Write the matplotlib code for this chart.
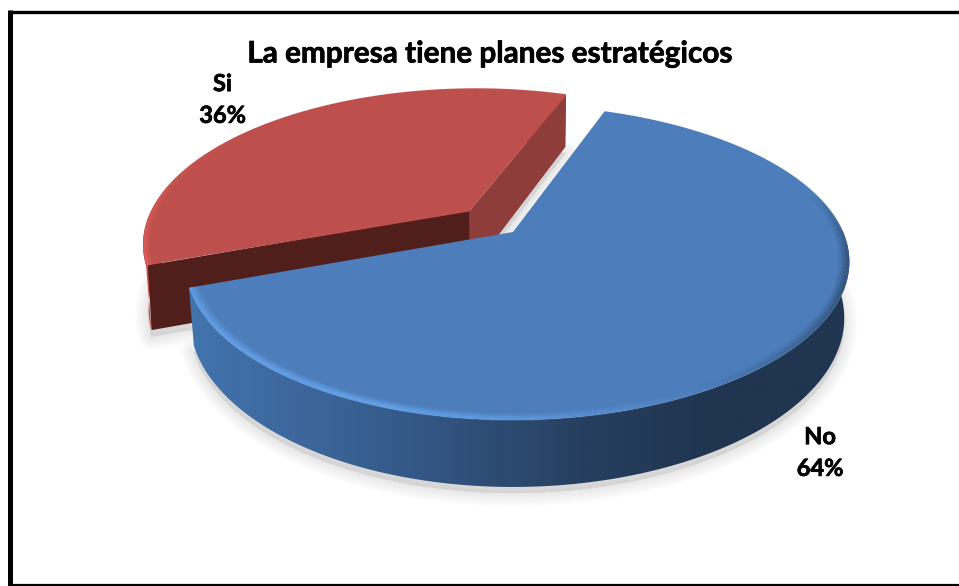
import numpy as np
import matplotlib
matplotlib.use("Agg")
import matplotlib.pyplot as plt
import matplotlib.patheffects as pe
from matplotlib.collections import LineCollection
from matplotlib.colors import LinearSegmentedColormap, to_rgb
from matplotlib.patches import Polygon

# Chart content
title = "La empresa tiene planes estratégicos"
categories = ["No", "Si"]
values = [64, 36]

# Pie geometry, in figure pixels
CX, CY = 513, 232       # hub of the centred slice
RX, RY = 322, 151.5     # disc radii after tilt
PERSP = 0.194           # perspective strength front to back
WIDEN = 0.025           # stretch of the near-camera right side
START = 19.5            # clockwise from twelve o'clock
DEPTH = {"No": 54, "Si": 63}
EXPLODE = {"No": 0.0, "Si": 0.197}
RADIUS = {"No": 1.0, "Si": 1.015}
TAPER = 0.985
TOP = {"No": "#4d7ebb", "Si": "#bd4f4c"}

plt.rcParams["font.family"] = ["Lato", "DejaVu Sans"]
fig = plt.figure(figsize=(9.59, 5.86), dpi=100)
ax = fig.add_axes([0, 0, 1, 1])
ax.set_xlim(0, 959)
ax.set_ylim(586, 0)
ax.axis("off")


def project(x, y, drop=0.0):
    """Map disc coordinates to the screen; drop moves down to the base."""
    x, y = np.asarray(x, float), np.asarray(y, float)
    w = 1 + PERSP * y
    sx = CX + RX * x * (1 + WIDEN * np.clip(x, 0, None)) / w
    sy = CY - RY * y / w
    if drop:
        sx = CX + TAPER * (sx - CX)
        sy = sy + drop / w
    return np.column_stack([np.atleast_1d(sx), np.atleast_1d(sy)])


def arc(a0, a1, off, r=1.0, n=240):
    t = np.radians(np.linspace(a0, a1, n))
    return r * np.sin(t) + off[0], r * np.cos(t) + off[1]


def wedge(a0, a1, off, r=1.0, drop=0.0):
    x, y = arc(a0, a1, off, r=r)
    return np.vstack([project(off[0], off[1], drop), project(x, y, drop)])


def blend(c0, c1, f):
    c0, c1 = np.array(to_rgb(c0)), np.array(to_rgb(c1))
    return tuple(c0 + (c1 - c0) * f)


# Slice angles follow the values
spans = {}
angle = START
total = sum(values)
for name, v in zip(categories, values):
    spans[name] = (angle, angle + 360 * v / total)
    angle += 360 * v / total

offsets = {}
for name in categories:
    a0, a1 = spans[name]
    mid = np.radians((a0 + a1) / 2)
    offsets[name] = (EXPLODE[name] * np.sin(mid), EXPLODE[name] * np.cos(mid))

# Soft shadow beneath both slices
for name in categories:
    a0, a1 = spans[name]
    base = wedge(a0, a1, offsets[name], RADIUS[name], DEPTH[name]) + np.array([0, 6])
    for lw in np.linspace(19, 1, 12):
        ax.add_patch(Polygon(base, closed=True, facecolor="#b0b0b0", edgecolor="#b0b0b0",
                             lw=lw, alpha=0.022, joinstyle="round", zorder=1))

# Red slice: outer wall, cut faces, top
a0, a1 = spans["Si"]
off = offsets["Si"]
d = DEPTH["Si"]
rad = RADIUS["Si"]
x, y = arc(a0, a1, off, r=rad)
ax.add_patch(Polygon(np.vstack([project(x, y), project(x, y, d)[::-1]]), closed=True,
                     facecolor="#c44f4c", edgecolor="none", zorder=2))
hub_t = project(off[0], off[1])
hub_b = project(off[0], off[1], d)
left_t, left_b = project(x[0:1], y[0:1]), project(x[0:1], y[0:1], d)
right_t, right_b = project(x[-1:], y[-1:]), project(x[-1:], y[-1:], d)
ax.add_patch(Polygon(np.vstack([hub_t, left_t + [3, 1], left_b + [1, -2], hub_b]), closed=True,
                     facecolor="#511f1b", edgecolor="#511f1b", lw=1.5, joinstyle="round", zorder=3))
ax.add_patch(Polygon(np.vstack([hub_t, right_t, right_b, hub_b]), closed=True,
                     facecolor="#8f3d3a", edgecolor="none", zorder=3))
ax.add_patch(Polygon(wedge(a0, a1, off, rad), closed=True, facecolor=TOP["Si"], edgecolor="none", zorder=4))

# Light bevel on the left of the red rim
for r, lw, strength in [(rad - 0.006, 2.2, 1.0), (rad - 0.014, 2.2, 0.45)]:
    px, py = arc(a0, a1, off, r=r)
    pts = project(px, py)
    segs = np.stack([pts[:-1], pts[1:]], axis=1)
    ang = np.linspace(a0, a1, len(segs))
    fade = np.clip(1 - (ang - a0) / 60, 0, 1) * strength
    cols = [blend(TOP["Si"], "#de5f5b", f) for f in fade]
    ax.add_collection(LineCollection(segs, colors=cols, linewidths=lw, zorder=5))

# Blue slice: outer wall with a horizontal gradient, then the top
a0, a1 = spans["No"]
off = offsets["No"]
d = DEPTH["No"]
x, y = arc(a0, a1, off, n=480)
rim = Polygon(np.vstack([project(x, y), project(x, y, d)[::-1]]), closed=True,
              facecolor="none", edgecolor="none", transform=ax.transData)
ax.add_patch(rim)
rim_cmap = LinearSegmentedColormap.from_list(
    "rim",
    [(0.0, "#4274ae"), (0.17, "#3d679c"), (0.32, "#355a8a"), (0.47, "#2d4b72"),
     (0.60, "#263f60"), (0.78, "#203550"), (1.0, "#20354f")],
)
grad = ax.imshow(np.linspace(0, 1, 512)[None, :], extent=(188, 850, 560, 230), cmap=rim_cmap,
                 aspect="auto", zorder=6, interpolation="bilinear")
grad.set_clip_path(rim)
ax.set_xlim(0, 959)
ax.set_ylim(586, 0)

ax.add_patch(Polygon(wedge(a0, a1, off), closed=True, facecolor=TOP["No"], edgecolor="none", zorder=7))

# Bevel along the blue edge: bright on the front left, shaded on the right
for r, lw, strength in [(0.996, 2.2, 0.8), (0.989, 2.2, 0.6), (0.982, 2.2, 0.35), (0.975, 2.2, 0.15)]:
    px, py = arc(a0, a1, off, r=r, n=480)
    pts = project(px, py)
    segs = np.stack([pts[:-1], pts[1:]], axis=1)
    ang = np.linspace(a0, a1, len(segs))
    rgba = []
    for t in ang:
        if t > 150:
            f = np.clip((t - 150) / 50, 0, 1) * strength
            rgba.append((*to_rgb("#66a4ec"), f))
        else:
            f = np.clip((150 - t) / 40, 0, 1) * np.clip((t - 75) / 25, 0, 1) * strength
            rgba.append((*to_rgb("#27405f"), f * 0.8))
    ax.add_collection(LineCollection(segs, colors=rgba, linewidths=lw, zorder=8))

# Frame around the chart: left, top and bottom edges
ax.plot([10, 10], [10, 586], color="black", lw=3.6, solid_capstyle="butt", zorder=10)
ax.plot([7.5, 959], [11.5, 11.5], color="black", lw=2.4, solid_capstyle="butt", zorder=10)
ax.plot([7.5, 959], [585, 585], color="black", lw=1.6, solid_capstyle="butt", zorder=10)

# Text, thickened a little with a hairline stroke
heavy = [pe.withStroke(linewidth=0.5, foreground="black")]
ax.text(490, 53.5, title, ha="center", va="center", fontsize=21.4, fontweight="bold", color="black",
        zorder=11, path_effects=heavy)
label_pos = {"No": (820, 452.5), "Si": (222.5, 99.5)}
for name, v in zip(categories, values):
    lx, ly = label_pos[name]
    ax.text(lx, ly, f"{name}\n{v}%", ha="center", va="center", fontsize=17, fontweight="bold",
            linespacing=1.46, color="black", zorder=11, path_effects=heavy)

fig.savefig("out.png", dpi=100, facecolor="white")
